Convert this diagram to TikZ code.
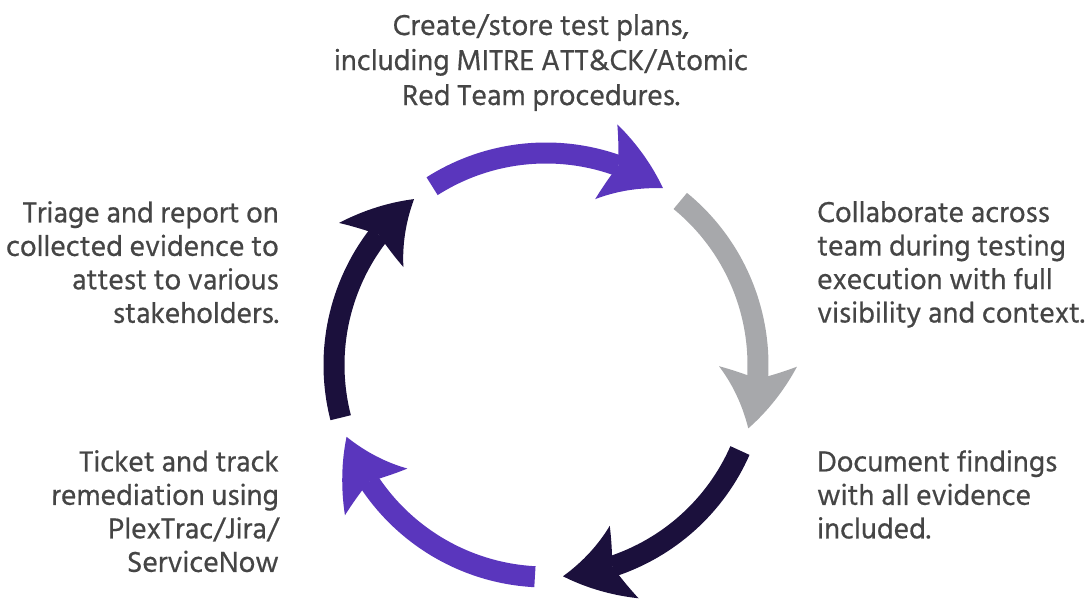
\documentclass[tikz,border=0pt]{standalone}
\usepackage{fontspec}
\setmainfont{Hind Siliguri}[FakeBold=0.5]
\usetikzlibrary{arrows.meta,bending}
\definecolor{cyclepurple}{HTML}{5A36BD}
\definecolor{cyclenavy}{HTML}{1B103C}
\definecolor{cyclegray}{HTML}{A7A8AB}
\definecolor{captiongray}{HTML}{454545}
\tikzset{
  cyclearrow/.style={line width=21pt,
    -{Stealth[length=64pt,width=78pt,inset=13pt,line width=0pt,bend]}},
  caption/.style={inner sep=0pt, text=captiongray,
    font=\fontsize{29.6}{33.5}\selectfont}
}

\begin{document}
\begin{tikzpicture}[x=1pt,y=1pt]
\useasboundingbox (0,0) rectangle (1088,599);
\coordinate (O) at (546,234);
% the five steps of the cycle
\draw[cyclearrow,cyclepurple] (O) ++(122.5:212) arc[start angle=122.5,end angle=56.5,radius=212pt];
\draw[cyclearrow,cyclegray] (O) ++(50.7:212) arc[start angle=50.7,end angle=-17.4,radius=212pt];
\draw[cyclearrow,cyclenavy] (O) ++(-23.8:212) arc[start angle=-23.8,end angle=-85.4,radius=212pt];
\draw[cyclearrow,cyclepurple] (O) ++(-93:212) arc[start angle=-93,end angle=-160.2,radius=212pt];
\draw[cyclearrow,cyclenavy] (O) ++(194.4:212) arc[start angle=194.4,end angle=128.5,radius=212pt];
% captions
\node[caption,anchor=north,align=center,font=\fontsize{29.6}{35}\selectfont] (plan) at (541,585)
  {Create/store test plans,\\including MITRE ATT\&CK/Atomic\\Red Team procedures.};
\node[caption,anchor=north west,align=left] (collab) at (817,398)
  {Collaborate across\\team during testing\\execution with full\\visibility and context.};
\node[caption,anchor=north west,align=left] (findings) at (817,149)
  {Document findings\\with all evidence\\included.};
\node[caption,anchor=north east,align=right] (ticket) at (279,149)
  {Ticket and track\\remediation using\\PlexTrac/Jira/\\ServiceNow};
\node[caption,anchor=north east,align=right] (triage) at (279,398)
  {Triage and report on\\collected evidence to\\attest to various\\stakeholders.};
\end{tikzpicture}
\end{document}
